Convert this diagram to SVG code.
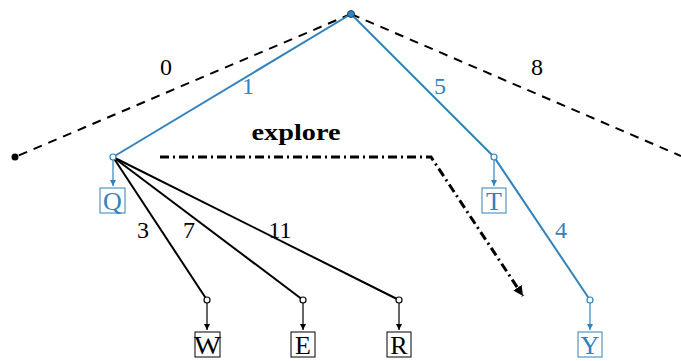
<svg xmlns="http://www.w3.org/2000/svg" width="681" height="361" viewBox="0 0 681 361">
<defs>
<marker id="ab" viewBox="0 0 10 10" refX="10" refY="5" markerWidth="6" markerHeight="8" markerUnits="userSpaceOnUse" orient="auto"><path d="M0,0 L10,5 L0,10 z" fill="#000"/></marker>
<marker id="abl" viewBox="0 0 10 10" refX="10" refY="5" markerWidth="6" markerHeight="8" markerUnits="userSpaceOnUse" orient="auto"><path d="M0,0 L10,5 L0,10 z" fill="#3182bd"/></marker>
<marker id="ae" viewBox="0 0 10 10" refX="10" refY="5" markerWidth="10" markerHeight="10" markerUnits="userSpaceOnUse" orient="auto"><path d="M0,0 L10,5 L0,10 z" fill="#000"/></marker>
</defs>
<style>
text{font-family:"Liberation Serif","DejaVu Serif",serif;font-size:24px;text-anchor:middle}
.bl{fill:#3182bd}
.box{font-size:26px}
.dash{stroke:#000;stroke-width:2;stroke-dasharray:9,7;fill:none}
.eb{stroke:#3182bd;stroke-width:2;fill:none}
.ek{stroke:#000;stroke-width:2;fill:none}
.ak{stroke:#000;stroke-width:1.2;marker-end:url(#ab)}
.abl{stroke:#3182bd;stroke-width:1.2;marker-end:url(#abl)}
.boxk{fill:#fff;stroke:#000;stroke-width:1}
.boxb{fill:#fff;stroke:#3182bd;stroke-width:1}
.nb{fill:#fff;stroke:#3182bd;stroke-width:1.2}
.nk{fill:#fff;stroke:#000;stroke-width:1.2}
</style>
<g id="connectors">
<path class="dash" d="M351,14 L15,157"/>
<path class="dash" d="M351,14 L681,156"/>
<path class="eb" d="M351,14 L113,157"/>
<path class="eb" d="M351,14 L494,157 L590,300"/>
<path class="ek" d="M113,157 L207,300"/>
<path class="ek" d="M113,157 L303,300"/>
<path class="ek" d="M113,157 L399,300"/>
<line class="abl" x1="113" y1="160" x2="113" y2="186"/>
<line class="abl" x1="494" y1="160" x2="494" y2="186"/>
<line class="abl" x1="590" y1="303" x2="590" y2="330"/>
<line class="ak" x1="207" y1="303" x2="207" y2="330"/>
<line class="ak" x1="303" y1="303" x2="303" y2="330"/>
<line class="ak" x1="399" y1="303" x2="399" y2="330"/>
<path d="M160,157 L431,157 L523,296" fill="none" stroke="#000" stroke-width="3" stroke-dasharray="9,4,2,4" marker-end="url(#ae)"/>
</g>
<g id="labels">
<text x="166" y="75">0</text>
<text class="bl" x="248" y="94">1</text>
<text class="bl" x="440" y="94">5</text>
<text x="537" y="75">8</text>
<text x="296" y="140" style="font-weight:bold" textLength="89" lengthAdjust="spacingAndGlyphs">explore</text>
<text x="143" y="238">3</text>
<text x="189" y="238">7</text>
<text x="280" y="238">11</text>
<text class="bl" x="561" y="238">4</text>
</g>
<g id="root"><circle cx="351" cy="14" r="3.5" fill="#3182bd" stroke="#1d3f5a" stroke-width="1"/></g>
<g id="leftdot"><circle cx="15" cy="157" r="3.5" fill="#000"/></g>
<g id="nodeQ"><circle class="nb" cx="113" cy="157" r="3"/><rect class="boxb" x="100" y="188" width="25" height="25"/><text class="bl box" x="112.5" y="210">Q</text></g>
<g id="nodeT"><circle class="nb" cx="494" cy="157" r="3"/><rect class="boxb" x="482" y="188" width="24" height="25"/><text class="bl box" x="494" y="210">T</text></g>
<g id="nodeY"><circle class="nb" cx="590" cy="300" r="3"/><rect class="boxb" x="578" y="332" width="24" height="25"/><text class="bl box" x="590" y="354">Y</text></g>
<g id="nodeW"><circle class="nk" cx="207" cy="300" r="3"/><rect class="boxk" x="195" y="332" width="25" height="25"/><text class="box" x="207.5" y="354" textLength="27" lengthAdjust="spacingAndGlyphs">W</text></g>
<g id="nodeE"><circle class="nk" cx="303" cy="300" r="3"/><rect class="boxk" x="291" y="332" width="24" height="25"/><text class="box" x="303" y="354">E</text></g>
<g id="nodeR"><circle class="nk" cx="399" cy="300" r="3"/><rect class="boxk" x="387" y="332" width="24" height="25"/><text class="box" x="399" y="354">R</text></g>
</svg>
